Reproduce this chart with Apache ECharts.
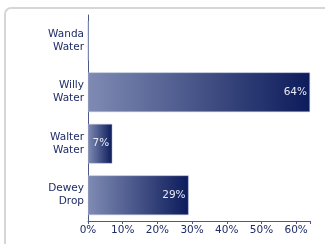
<!DOCTYPE html>
<html>
<head>
<meta charset="utf-8">
<script src="https://cdn.jsdelivr.net/npm/echarts@6/dist/echarts.min.js"></script>
<style>
    html, body { margin: 0; padding: 0; background: #fff; overflow: hidden; }
    #card {
        position: absolute; left: 4px; top: 7px; width: 321px; height: 237px;
        border-top: 2px solid #d6d6d6; border-left: 2px solid #d6d6d6;
        border-top-left-radius: 7px; box-sizing: border-box;
    }
    #chart { position: absolute; left: 0; top: 0; width: 325px; height: 244px; }
</style>
</head>
<body>
<div id="card"></div>
<div id="chart"></div>
<script>
// categories bottom -> top (echarts draws first category at the bottom)
var categories = ['Dewey\nDrop', 'Walter\nWater', 'Willy\nWater', 'Wanda\nWater'];
var shares = [29, 7, 64, 0];
var axisMax = 64;

var navy = '#1f2c66';

var chart = echarts.init(document.getElementById('chart'));
var option = {
    animation: false,
    grid: {
        left: 88,
        right: 15,
        top: 15,
        bottom: 23
    },
    xAxis: {
        type: 'value',
        min: 0,
        max: axisMax,
        interval: 10,
        splitLine: { show: false },
        axisLine: { show: true, lineStyle: { color: '#4b5888', width: 1 } },
        axisTick: { show: true, length: 3, lineStyle: { color: '#4b5888' } },
        axisLabel: {
            color: navy,
            fontFamily: 'DejaVu Sans',
            fontSize: 10.5,
            margin: 4,
            formatter: function (v) {
                return v % 10 === 0 ? v + '%' : '';
            }
        }
    },
    yAxis: {
        type: 'category',
        data: categories,
        axisLine: { show: true, lineStyle: { color: '#4b5888', width: 1 } },
        axisTick: { show: false },
        axisLabel: {
            color: navy,
            fontFamily: 'DejaVu Sans',
            fontSize: 10.5,
            lineHeight: 13,
            margin: 4,
            align: 'right'
        }
    },
    series: [{
        type: 'bar',
        data: shares,
        barCategoryGap: '23%',
        itemStyle: {
            color: {
                type: 'linear', x: 0, y: 0, x2: 1, y2: 0,
                colorStops: [
                    { offset: 0, color: '#7f8bb3' },
                    { offset: 1, color: '#0c1b5b' }
                ]
            },
            borderColor: '#b9c1da',
            borderWidth: 0.5
        },
        label: {
            show: true,
            position: 'insideRight',
            distance: 3,
            color: '#e8ebf5',
            fontFamily: 'DejaVu Sans',
            fontSize: 10.5,
            formatter: function (p) {
                return p.value > 0 ? p.value + '%' : '';
            }
        }
    }]
};
chart.setOption(option);
</script>
</body>
</html>
